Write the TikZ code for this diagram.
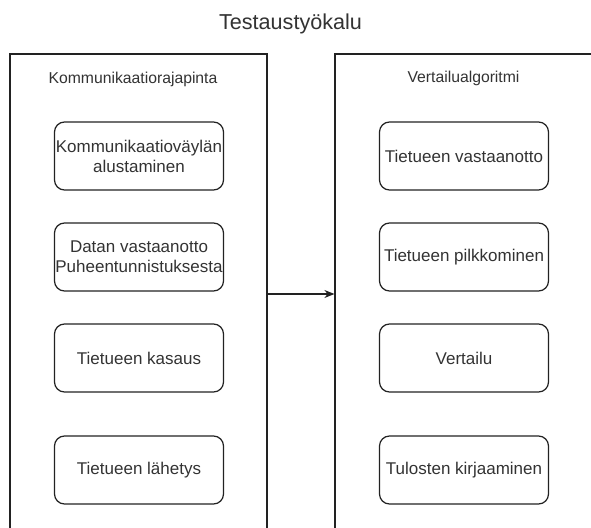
\documentclass[tikz,border=0pt]{standalone}
\usepackage{fontspec}
\setmainfont{Liberation Sans}
\usetikzlibrary{arrows.meta}
\newlength\pxu
\setlength\pxu{0.75pt}
\definecolor{txt}{HTML}{333333}
\definecolor{ln}{HTML}{222222}
\begin{document}
\begin{tikzpicture}[x=0.75pt,y=-0.75pt,
  outerbox/.style={draw=ln, line width=0.9pt, minimum width=257\pxu, minimum height=480\pxu, inner sep=0pt},
  stepbox/.style={draw=ln, line width=0.9pt, rounded corners=7.5pt, minimum width=169\pxu, minimum height=68\pxu,
    align=center, text=txt, font=\fontsize{12.75pt}{15pt}\selectfont, inner sep=0pt},
  grouplabel/.style={text=txt, font=\fontsize{11.8pt}{14pt}\selectfont, anchor=base, inner sep=0pt},
  titlelabel/.style={text=txt, font=\fontsize{16.2pt}{19pt}\selectfont, anchor=base, inner sep=0pt},
  conn/.style={draw=ln, line width=0.9pt, -{Stealth[length=7.5pt,width=6pt]}}]
\useasboundingbox (0,0) rectangle (591,527);
\fill[white] (0,0) rectangle (591,527);
\clip (0,0) rectangle (591,527);

\node[titlelabel] (title) at (290.5,30) {Testaustyökalu};

\node[outerbox] (left) at (138.5,294) {};
\node[outerbox, minimum width=262\pxu] (right) at (466,294) {};

\node[grouplabel] (leftlabel) at (133,84) {Kommunikaatiorajapinta};
\node[grouplabel] (rightlabel) at (463.5,83) {Vertailualgoritmi};

\node[stepbox] (l1) at (139,156) {Kommunikaatioväylän\\alustaminen};
\node[stepbox] (l2) at (139,257) {Datan vastaanotto\\Puheentunnistuksesta};
\node[stepbox] (l3) at (139,358) {Tietueen kasaus};
\node[stepbox] (l4) at (139,470) {Tietueen lähetys};

\node[stepbox] (r1) at (464,156) {Tietueen vastaanotto};
\node[stepbox] (r2) at (464,257) {Tietueen pilkkominen};
\node[stepbox] (r3) at (464,358) {Vertailu};
\node[stepbox] (r4) at (464,470) {Tulosten kirjaaminen};

\draw[conn] (left.east) -- (right.west);
\end{tikzpicture}
\end{document}
